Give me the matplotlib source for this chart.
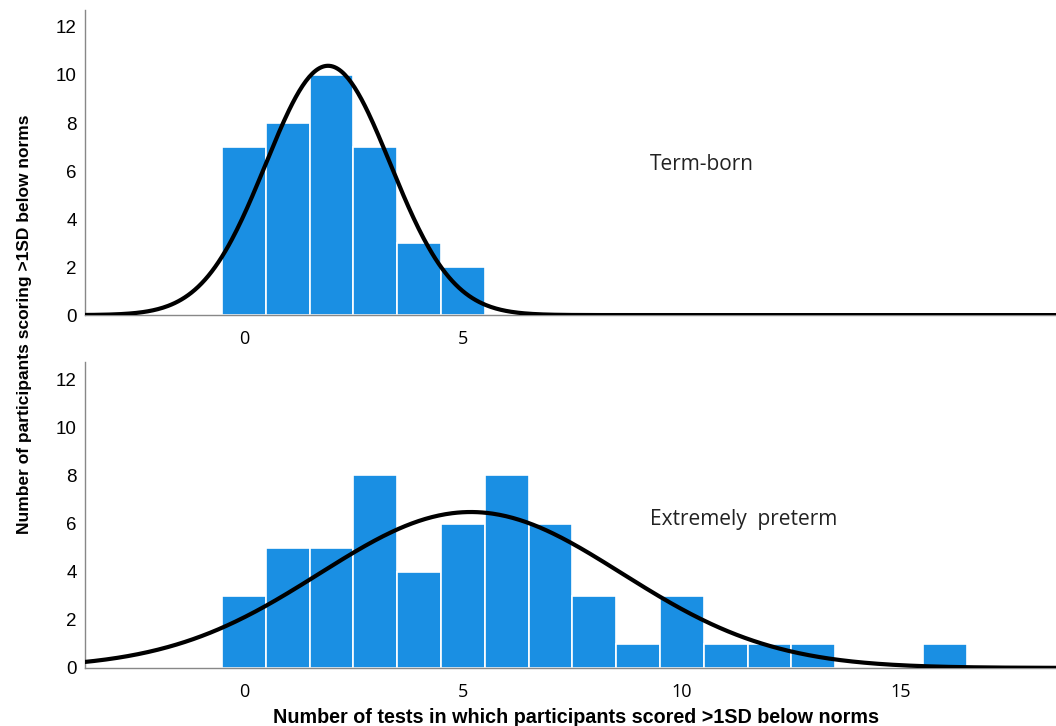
import numpy as np
import matplotlib
matplotlib.use("Agg")
import matplotlib.pyplot as plt

# histogram counts (bin centred on each integer)
term_bins = [0, 1, 2, 3, 4, 5]
term_counts = [7, 8, 10, 7, 3, 2]

preterm_bins = [0, 1, 2, 3, 4, 5, 6, 7, 8, 9, 10, 11, 12, 13, 14, 15, 16]
preterm_counts = [3, 5, 5, 8, 4, 6, 8, 6, 3, 1, 3, 1, 1, 1, 0, 0, 1]

panel_labels = ["Term-born", "Extremely  preterm"]
top_xticks = [0, 5]
bottom_xticks = [0, 5, 10, 15]
yticks = [0, 2, 4, 6, 8, 10, 12]

BAR_COLOR = "#1a8fe3"
plt.rcParams["font.family"] = ["Liberation Sans", "DejaVu Sans"]

fig = plt.figure(figsize=(10.56, 7.26), dpi=100)
ax1 = fig.add_axes([0.0805, 0.566, 0.9195, 0.420])
ax2 = fig.add_axes([0.0805, 0.080, 0.9195, 0.421])


def normal_fit(bins, counts):
    # SPSS-style normal curve: mean / sd of the data scaled by N * bin width
    x = np.repeat(bins, counts)
    mu, sd = x.mean(), x.std(ddof=1)
    xs = np.linspace(-4, 19, 600)
    ys = len(x) * np.exp(-0.5 * ((xs - mu) / sd) ** 2) / (sd * np.sqrt(2 * np.pi))
    return xs, ys


for ax, bins, counts, xt, label, lpos in [
    (ax1, term_bins, term_counts, top_xticks, panel_labels[0], (0.6155, 0.773)),
    (ax2, preterm_bins, preterm_counts, bottom_xticks, panel_labels[1], (0.6155, 0.285)),
]:
    ax.bar(bins, counts, width=1.0, color=BAR_COLOR, edgecolor="white", linewidth=1.2, zorder=2)
    xs, ys = normal_fit(bins, counts)
    ax.plot(xs, ys, color="black", lw=3.0, zorder=3)
    ax.set_xlim(-3.63, 18.54)
    ax.set_ylim(0, 12.7)
    ax.set_xticks(xt)
    ax.set_yticks(yticks)
    ax.tick_params(axis="y", length=0, labelsize=13.5, pad=6)
    ax.tick_params(axis="x", length=0, labelsize=13, pad=11)
    for t in ax.get_xticklabels():
        t.set_fontfamily(["Open Sans", "DejaVu Sans"])
    for s in ["top", "right"]:
        ax.spines[s].set_visible(False)
    for s in ["left", "bottom"]:
        ax.spines[s].set_color("#888888")
        ax.spines[s].set_linewidth(1.0)
    ax.text(lpos[0], lpos[1], label, transform=fig.transFigure, fontsize=15,
            family=["Open Sans", "DejaVu Sans"], color="#222222", ha="left", va="center")

fig.text(0.023, 0.554, "Number of participants scoring >1SD below norms", rotation=90,
         ha="center", va="center", fontsize=12.5, fontweight="bold")
fig.text(0.545, 0.012, "Number of tests in which participants scored >1SD below norms",
         ha="center", va="center", fontsize=14.2, fontweight="bold")

fig.savefig("out.png", dpi=100)
